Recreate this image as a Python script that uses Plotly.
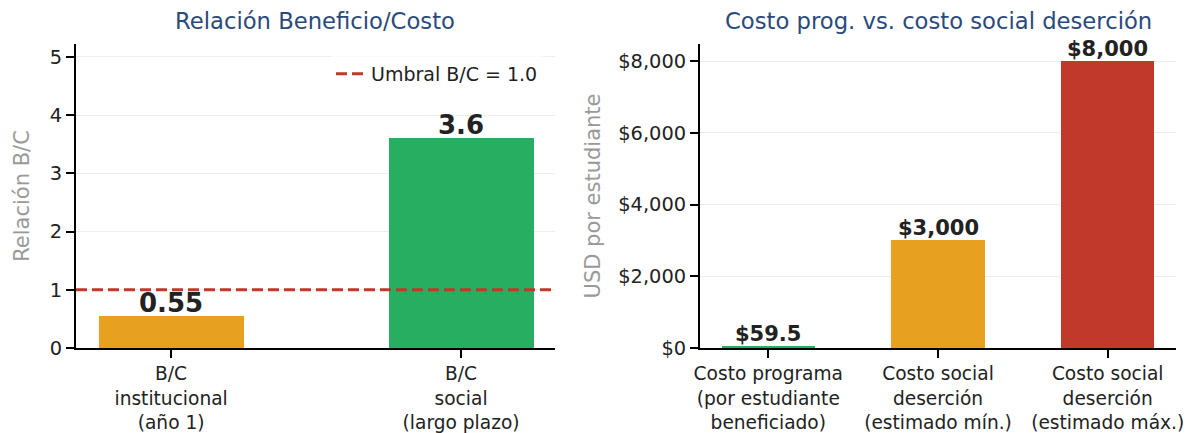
import plotly.graph_objects as go

# Data
bc_categories = ["B/C<br>institucional<br>(año 1)", "B/C<br>social<br>(largo plazo)"]
bc_values = [0.55, 3.6]
bc_labels = ["0.55", "3.6"]
bc_colors = ["#E8A020", "#27AE60"]
bc_yticks = [0, 1, 2, 3, 4, 5]
threshold = 1.0
threshold_label = "Umbral B/C = 1.0"

cost_categories = ["Costo programa<br>(por estudiante<br>beneficiado)",
                   "Costo social<br>deserción<br>(estimado mín.)",
                   "Costo social<br>deserción<br>(estimado máx.)"]
cost_values = [59.5, 3000, 8000]
cost_labels = ["$59.5", "$3,000", "$8,000"]
cost_colors = ["#27AE60", "#E8A020", "#C0392B"]
cost_yticks = [0, 2000, 4000, 6000, 8000]
cost_yticklabels = ["$0", "$2,000", "$4,000", "$6,000", "$8,000"]

FONT = "DejaVu Sans"
TITLE_COLOR = "#2B4A7C"
TICK = 19.4
XTICK = 18.6

# page body has an 8px margin: figure coords = screen coords - 8
OFF = 8
W, H = 1196 - OFF, 433 - OFF


def px(sx):
    return (sx - OFF) / W


def py(sy):
    return (H - (sy - OFF)) / H


fig = go.Figure()

bc_x = list(range(len(bc_values)))
cost_x = list(range(len(cost_values)))

fig.add_trace(go.Bar(
    x=bc_x, y=bc_values, width=0.5, marker_color=bc_colors,
    marker_line_width=0, xaxis="x", yaxis="y", showlegend=False,
))
fig.add_trace(go.Scatter(
    x=[None], y=[None], mode="lines", name=threshold_label,
    line=dict(color="#C0392B", width=3, dash="11px,5px"),
    xaxis="x", yaxis="y", showlegend=True,
))
fig.add_shape(type="line", xref="x domain", yref="y", x0=0, x1=1,
              y0=threshold, y1=threshold,
              line=dict(color="#C0392B", width=3, dash="11px,5px"))

fig.add_trace(go.Bar(
    x=cost_x, y=cost_values, width=0.55, marker_color=cost_colors,
    marker_line_width=0, xaxis="x2", yaxis="y2", showlegend=False,
))

annotations = []
for xi, v, t in zip(bc_x, bc_values, bc_labels):
    annotations.append(dict(x=xi, y=v, xref="x", yref="y", text=f"<b>{t}</b>",
                            showarrow=False, yanchor="bottom", yshift=-4,
                            font=dict(family=FONT, size=26, color="#222")))
for xi, v, t in zip(cost_x, cost_values, cost_labels):
    annotations.append(dict(x=xi, y=v, xref="x2", yref="y2", text=f"<b>{t}</b>",
                            showarrow=False, yanchor="bottom", yshift=-2,
                            font=dict(family=FONT, size=21, color="#222")))

L0, L1 = 76, 555
R0, R1 = 700, 1176

annotations += [
    dict(text="Relación Beneficio/Costo", xref="paper", yref="paper",
         x=px((L0 + L1) / 2), y=py(21), xanchor="center", yanchor="middle",
         showarrow=False, font=dict(family=FONT, size=22.7, color=TITLE_COLOR)),
    dict(text="Costo prog. vs. costo social deserción", xref="paper", yref="paper",
         x=px((R0 + R1) / 2), y=py(21), xanchor="center", yanchor="middle",
         showarrow=False, font=dict(family=FONT, size=22.7, color=TITLE_COLOR)),
]

yd = [py(348), py(44)]

axis_common = dict(
    showline=True, linecolor="black", linewidth=2,
    ticks="outside", ticklen=8, tickwidth=1.8, tickcolor="black",
    zeroline=False, automargin=False,
)
ytick_font = dict(family=FONT, size=TICK, color="#222")
xtick_font = dict(family=FONT, size=XTICK, color="#222")

fig.update_layout(
    width=W, height=H,
    margin=dict(l=0, r=0, t=0, b=0, autoexpand=False),
    paper_bgcolor="white", plot_bgcolor="white",
    font=dict(family=FONT),
    bargap=0,
    xaxis=dict(domain=[px(L0), px(L1)], range=[-0.328, 1.324],
               tickvals=bc_x, ticktext=bc_categories, showgrid=False,
               anchor="y", tickfont=xtick_font, **axis_common),
    yaxis=dict(domain=yd, range=[0, 5.22], tickvals=bc_yticks,
               showgrid=True, gridcolor="#EDEDED", gridwidth=1, anchor="x",
               tickfont=ytick_font,
               title=dict(text="Relación B/C", font=dict(family=FONT, size=21, color="#999"),
                          standoff=14),
               **axis_common),
    xaxis2=dict(domain=[px(R0), px(R1)], range=[-0.4025, 2.4025],
                tickvals=cost_x, ticktext=cost_categories, showgrid=False,
                anchor="y2", tickfont=xtick_font, **axis_common),
    yaxis2=dict(domain=yd, range=[0, 8480], tickvals=cost_yticks,
                ticktext=cost_yticklabels,
                showgrid=True, gridcolor="#EDEDED", gridwidth=1, anchor="x2",
                tickfont=ytick_font,
                title=dict(text="USD por estudiante", font=dict(family=FONT, size=21, color="#999"),
                           standoff=12),
                **axis_common),
    legend=dict(x=px(543), xanchor="right", y=py(55), yanchor="top",
                bgcolor="rgba(255,255,255,0.8)", borderwidth=0,
                font=dict(family=FONT, size=19, color="#222")),
    annotations=annotations,
)

fig.write_html("out.html")
